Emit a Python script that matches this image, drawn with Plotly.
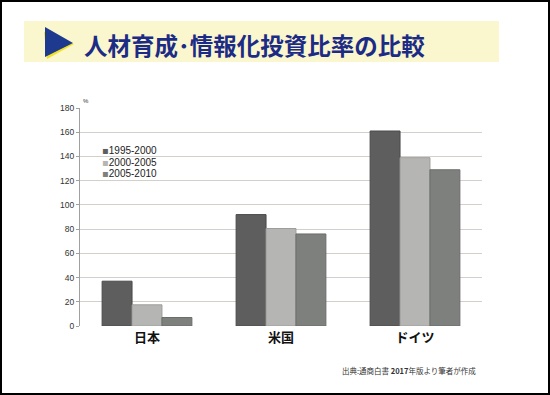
import plotly.graph_objects as go

categories = ["日本", "米国", "ドイツ"]
series_names = ["1995-2000", "2000-2005", "2005-2010"]
values_1995_2000 = [37, 92, 161]
values_2000_2005 = [17.5, 80.5, 139]
values_2005_2010 = [7, 76, 129]
series_values = [values_1995_2000, values_2000_2005, values_2005_2010]
colors = ["#5e5e5e", "#b5b5b3", "#7e807e"]
line_colors = ["#4a4a4a", "#9d9d9b", "#6a6c6a"]
y_ticks = list(range(0, 181, 20))
title_text = "人材育成･情報化投資比率の比較"
source_text = "出典:通商白書 <b>2017</b>年版より筆者が作成"

W, H = 550, 395
L, R, T, B = 80, 68, 108, 69
PW, PH = W - L - R, H - T - B

def px(x):
    return (x - L) / PW

def py(y):
    return (H - B - y) / PH

fig = go.Figure()
for name, vals, c, lc in zip(series_names, series_values, colors, line_colors):
    fig.add_trace(go.Bar(x=categories, y=vals, name=name, marker=dict(color=c, line=dict(color=lc, width=1)),
                         showlegend=False))

CJK = "Liberation Sans, Arial, Noto Sans CJK JP, sans-serif"

fig.update_layout(
    width=W, height=H, margin=dict(l=L, r=R, t=T, b=B),
    paper_bgcolor="white", plot_bgcolor="white",
    barmode="group", bargap=0.33, bargroupgap=0,
    font=dict(family=CJK, color="#333333"),
    xaxis=dict(showgrid=False, showline=False, ticks="",
               tickfont=dict(size=13, color="#111111", family="Noto Sans CJK JP", weight="bold"),
               ticklabelstandoff=2),
    yaxis=dict(range=[0, 180], tickvals=y_ticks, showgrid=True, gridcolor="#d3cfcb", gridwidth=1,
               showline=True, linecolor="#a0a0a0", linewidth=1, ticks="outside", ticklen=3, tickcolor="#a0a0a0",
               tickfont=dict(size=8.5, color="#333333"), zeroline=False),
)

shapes = []
shapes.append(dict(type="rect", xref="paper", yref="paper", x0=px(1), x1=px(549), y0=py(1), y1=py(394),
                   line=dict(color="black", width=2), layer="below"))
shapes.append(dict(type="rect", xref="paper", yref="paper", x0=px(24), x1=px(499), y0=py(21), y1=py(62),
                   fillcolor="#faf6cd", line=dict(width=0), layer="below"))
def path(pts):
    return "M " + " L ".join(f"{px(a):.4f},{py(b):.4f}" for a, b in pts) + " Z"
shapes.append(dict(type="path", xref="paper", yref="paper", path=path([(44, 32), (47, 59), (74, 44)]),
                   fillcolor="#f2e227", line=dict(width=0)))
shapes.append(dict(type="path", xref="paper", yref="paper", path=path([(45, 27), (45, 57), (73, 43)]),
                   fillcolor="#1d3a8e", line=dict(width=0)))
fig.update_layout(shapes=shapes)

annotations = [
    dict(text=title_text, x=px(82), y=py(45), xref="paper", yref="paper", xanchor="left", yanchor="middle",
         showarrow=False, font=dict(size=23.5, color="#1b2b86", family="Noto Sans CJK JP", weight="bold")),
    dict(text="%", x=px(81), y=py(101), xref="paper", yref="paper", xanchor="left", yanchor="middle",
         showarrow=False, font=dict(size=6, color="#333333")),
    dict(text=source_text, x=px(478), y=py(370), xref="paper", yref="paper", xanchor="right", yanchor="middle",
         showarrow=False, font=dict(size=7.5, color="#333333", family="Noto Sans CJK JP")),
]
legend_y = [150.5, 162, 173.5]
for name, c, yy in zip(series_names, colors, legend_y):
    annotations.append(dict(text=f"<span style='color:{c};font-family:DejaVu Sans'>▪</span>{name}", x=px(100), y=py(yy),
                            xref="paper", yref="paper", xanchor="left", yanchor="middle", showarrow=False,
                            font=dict(size=10, color="#222222", family="Liberation Sans, Arial")))
fig.update_layout(annotations=annotations)

fig.write_html("out.html", config={"displayModeBar": False},
               post_script="document.body.style.margin='0';document.body.style.overflow='hidden';")
